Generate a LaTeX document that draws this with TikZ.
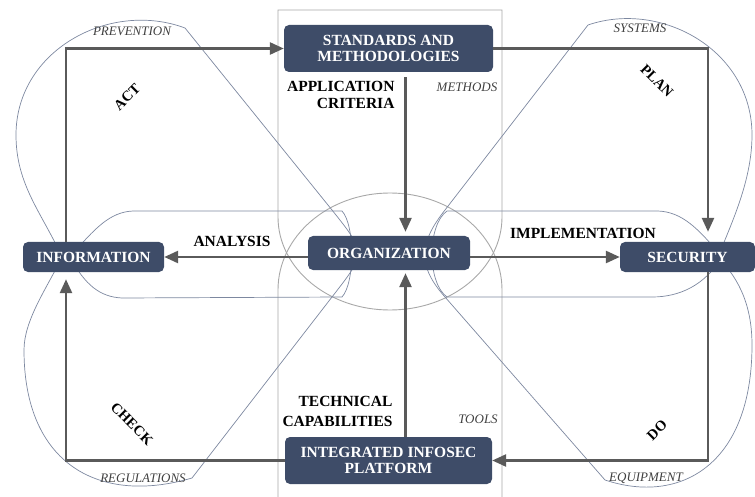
\documentclass[tikz,border=0pt]{standalone}
\usepackage{fontspec}
\setmainfont{Liberation Serif}
\usetikzlibrary{arrows.meta}
\definecolor{boxblue}{HTML}{3E4C68}
\definecolor{arrgray}{HTML}{5A5A5A}
\definecolor{petalcol}{HTML}{7D88A0}
\definecolor{framecol}{HTML}{A8A8A8}

\begin{document}
\begin{tikzpicture}[x=1pt,y=-1pt,
  box/.style={fill=boxblue,rounded corners=5pt,text=white,align=center,inner sep=0pt,
    font=\bfseries\fontsize{15.5}{16.5}\selectfont},
  arr/.style={draw=arrgray,line width=2.6pt,-{Triangle[length=14pt,width=12pt]}},
  lbl/.style={font=\bfseries\fontsize{15.5}{17}\selectfont},
  rot/.style={font=\bfseries\fontsize{14.5}{15}\selectfont},
  tag/.style={font=\itshape\fontsize{13}{14}\selectfont,text=black!75},
  petal/.style={draw=petalcol,line width=0.7pt},
  frame/.style={draw=framecol,line width=0.9pt}]
\useasboundingbox (0,0) rectangle (755,497);

\draw[frame](278,10)--(502,10)--(502,217)
  .. controls (502,268.4) and (451.9,310) .. (390,310)
  .. controls (328.1,310) and (278,268.4) .. (278,217)--cycle;
\draw[frame](278,497)--(278,290)
  .. controls (278,236.4) and (328.1,193) .. (390,193)
  .. controls (451.9,193) and (502,236.4) .. (502,290)--(502,497);

\draw[petal](185,28) .. controls (110,0) and (16,50) .. (16,135)
  .. controls (16,185) and (42,213) .. (62,257)
  .. controls (47,288) and (24,320) .. (24,350)
  .. controls (24,465) and (100,505) .. (192,478)
  --(332,297) .. controls (366,253) and (367,254) .. (332,210)--cycle;
\draw[petal](588,25) .. controls (661,0) and (752,50) .. (752,135)
  .. controls (752,180) and (732,222) .. (718,257)
  .. controls (735,275) and (752,300) .. (752,345)
  .. controls (752,465) and (680,505) .. (605,480)
  --(445,297) .. controls (417,265.5) and (419,243) .. (445,210)--cycle;

\draw[petal](70,257) .. controls (95,228) and (110,212) .. (133,211)--(342,211)
  .. controls (355,225) and (355,283) .. (342,297)--(122,298)
  .. controls (100,297) and (85,285) .. (70,257);
\draw[petal](722,257) .. controls (698,228) and (682,212) .. (658,211)--(447,211)
  .. controls (427,225) and (427,283) .. (447,297)--(652,297)
  .. controls (680,297) and (705,285) .. (722,257);

\node[box,minimum width=209pt,minimum height=47pt] (std) at (388.5,48.5) {STANDARDS AND\\METHODOLOGIES};
\node[box,minimum width=162pt,minimum height=34pt] (org) at (389,253) {ORGANIZATION};
\node[box,minimum width=141pt,minimum height=30pt] (info) at (93.5,257) {INFORMATION};
\node[box,minimum width=135pt,minimum height=30pt] (sec) at (687.5,257) {SECURITY};
\node[box,minimum width=207pt,minimum height=47pt] (plat) at (388.5,460.5) {INTEGRATED INFOSEC\\PLATFORM};

\draw[arr]([xshift=-27.5pt]info.north)|-(std.west);
\draw[arr,shorten >=10pt](std.east)-|([xshift=20.5pt]sec.north);
\draw[arr]([xshift=20.5pt]sec.south)|-(plat.east);
\draw[arr,shorten >=7pt](plat.west)-|([xshift=-27.5pt]info.south);
\draw[arr,shorten <=5pt,shorten >=4pt]([xshift=17pt]std.south)--([xshift=17pt]std.south |- org.north);
\draw[arr,shorten >=3pt]([xshift=17pt]plat.north)--([xshift=17pt]plat.north |- org.south);
\draw[arr](org.west |- info)--(info.east);
\draw[arr](org.east |- sec)--(sec.west);

\node[lbl,align=right,anchor=east] (crit) at (398,95) {APPLICATION\\CRITERIA};
\node[lbl,align=right,anchor=east] (capa) at (396,411) {TECHNICAL\\[3pt]CAPABILITIES};
\node[lbl] (anal) at (232,241) {ANALYSIS};
\node[lbl] (impl) at (583,233) {IMPLEMENTATION};

\node[tag] (prev) at (132,31) {PREVENTION};
\node[tag] (syst) at (640,28) {SYSTEMS};
\node[tag] (meth) at (467,87) {METHODS};
\node[tag] (tool) at (478,419) {TOOLS};
\node[tag] (regu) at (143,478) {REGULATIONS};
\node[tag] (equi) at (646,478) {EQUIPMENT};

\node[rot,rotate=45] (act) at (127,97) {ACT};
\node[rot,rotate=-45] (plan) at (657,81) {PLAN};
\node[rot,rotate=-45] (chk) at (132,424) {CHECK};
\node[rot,rotate=45] (do) at (657,430) {DO};
\end{tikzpicture}
\end{document}
